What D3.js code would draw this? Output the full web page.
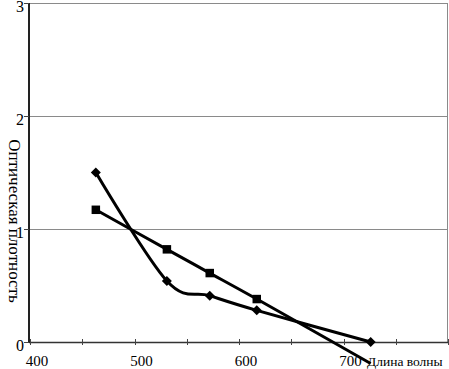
<!DOCTYPE html>
<html>
<head>
<meta charset="utf-8">
<script src="https://cdn.jsdelivr.net/npm/d3@7"></script>
<style>
  body { margin: 0; background: #fff; }
  svg { display: block; }
</style>
</head>
<body>
<div id="canvas"></div>
<script>
// wavelengths, nm
var wavelengths = [463, 531, 572, 617, 726];
// optical density, two samples
var seriesDiamond = [1.50, 0.54, 0.41, 0.28, 0.00];
var seriesSquare = [1.17, 0.82, 0.61, 0.38, -0.19];
var xTicks = [400, 500, 600, 700];
var xMinorTicks = [400, 450, 500, 550, 600, 650, 700, 750, 800];
var yTicks = [0, 1, 2, 3];
var yTitle = "Оптическая плотность";
var xTitle = "Длина волны";

(function () {
    var width = 449, height = 369;
    var left = 30, right = 448, top = 3, bottom = 342;
    var font = "'Liberation Serif', 'Times New Roman', 'DejaVu Serif', serif";

    var x = d3.scaleLinear().domain([400, 800]).range([left, right]);
    var y = d3.scaleLinear().domain([0, 3]).range([bottom, top]);

    var svg = d3.select('#canvas')
        .append('svg')
        .attr('width', width)
        .attr('height', height)
        .attr('font-family', font);

    // gridlines
    svg.selectAll('line.grid')
        .data(yTicks.filter(function (d) { return d > 0; }))
        .enter()
        .append('line')
        .attr('class', 'grid')
        .attr('x1', left).attr('x2', right)
        .attr('y1', function (d) { return Math.round(y(d)) + 0.5; })
        .attr('y2', function (d) { return Math.round(y(d)) + 0.5; })
        .attr('stroke', '#8a8a8a')
        .attr('stroke-width', 1);

    // right border
    svg.append('line')
        .attr('x1', right - 0.5).attr('x2', right - 0.5)
        .attr('y1', top).attr('y2', bottom)
        .attr('stroke', '#8a8a8a');

    // x axis
    svg.append('line')
        .attr('x1', left - 1).attr('x2', right)
        .attr('y1', bottom + 0.5).attr('y2', bottom + 0.5)
        .attr('stroke', '#333')
        .attr('stroke-width', 1.5);

    svg.selectAll('line.xtick')
        .data(xMinorTicks)
        .enter()
        .append('line')
        .attr('class', 'xtick')
        .attr('x1', function (d) { return Math.round(x(d)) + 0.5; })
        .attr('x2', function (d) { return Math.round(x(d)) + 0.5; })
        .attr('y1', bottom - 3).attr('y2', bottom + 3)
        .attr('stroke', '#444');

    svg.selectAll('text.xlab')
        .data(xTicks)
        .enter()
        .append('text')
        .attr('class', 'xlab')
        .attr('x', function (d) { return x(d) + 7; })
        .attr('y', 366)
        .attr('text-anchor', 'middle')
        .style('font-size', '15px')
        .text(function (d) { return d; });

    svg.append('text')
        .attr('x', 367)
        .attr('y', 366)
        .style('font-size', '13.5px')
        .text(xTitle);

    // y axis
    svg.append('line')
        .attr('x1', left - 1).attr('x2', left - 1)
        .attr('y1', top).attr('y2', bottom + 1)
        .attr('stroke', '#222')
        .attr('stroke-width', 2);

    svg.selectAll('line.ytick')
        .data(yTicks)
        .enter()
        .append('line')
        .attr('class', 'ytick')
        .attr('x1', left - 6).attr('x2', left - 1)
        .attr('y1', function (d) { return Math.round(y(d)) + 0.5; })
        .attr('y2', function (d) { return Math.round(y(d)) + 0.5; })
        .attr('stroke', '#444');

    svg.selectAll('text.ylab')
        .data(yTicks)
        .enter()
        .append('text')
        .attr('class', 'ylab')
        .attr('x', 24)
        .attr('y', function (d) { return y(d) + 9; })
        .attr('text-anchor', 'end')
        .style('font-size', '16px')
        .text(function (d) { return d; });

    svg.append('text')
        .attr('transform', 'translate(9,221) rotate(90)')
        .attr('text-anchor', 'middle')
        .style('font-size', '17px')
        .text(yTitle);

    // series
    var line = d3.line()
        .x(function (d) { return x(d[0]); })
        .y(function (d) { return y(d[1]); })
        .curve(d3.curveCatmullRom.alpha(0));

    var dataDiamond = wavelengths.map(function (w, i) { return [w, seriesDiamond[i]]; });
    var dataSquare = wavelengths.map(function (w, i) { return [w, seriesSquare[i]]; });

    [dataDiamond, dataSquare].forEach(function (data) {
        svg.append('path')
            .datum(data)
            .attr('d', line)
            .attr('fill', 'none')
            .attr('stroke', '#000')
            .attr('stroke-width', 3)
            .attr('stroke-linejoin', 'round');
    });

    svg.selectAll('path.diamond')
        .data(dataDiamond.filter(function (d) { return d[1] >= 0; }))
        .enter()
        .append('path')
        .attr('class', 'diamond')
        .attr('d', d3.symbol().type(d3.symbolSquare).size(50))
        .attr('transform', function (d) {
            return 'translate(' + x(d[0]) + ',' + y(d[1]) + ') rotate(45)';
        })
        .attr('fill', '#000');

    svg.selectAll('path.square')
        .data(dataSquare.filter(function (d) { return d[1] >= 0; }))
        .enter()
        .append('path')
        .attr('class', 'square')
        .attr('d', d3.symbol().type(d3.symbolSquare).size(72))
        .attr('transform', function (d) {
            return 'translate(' + x(d[0]) + ',' + y(d[1]) + ')';
        })
        .attr('fill', '#000');
})();
</script>
</body>
</html>
